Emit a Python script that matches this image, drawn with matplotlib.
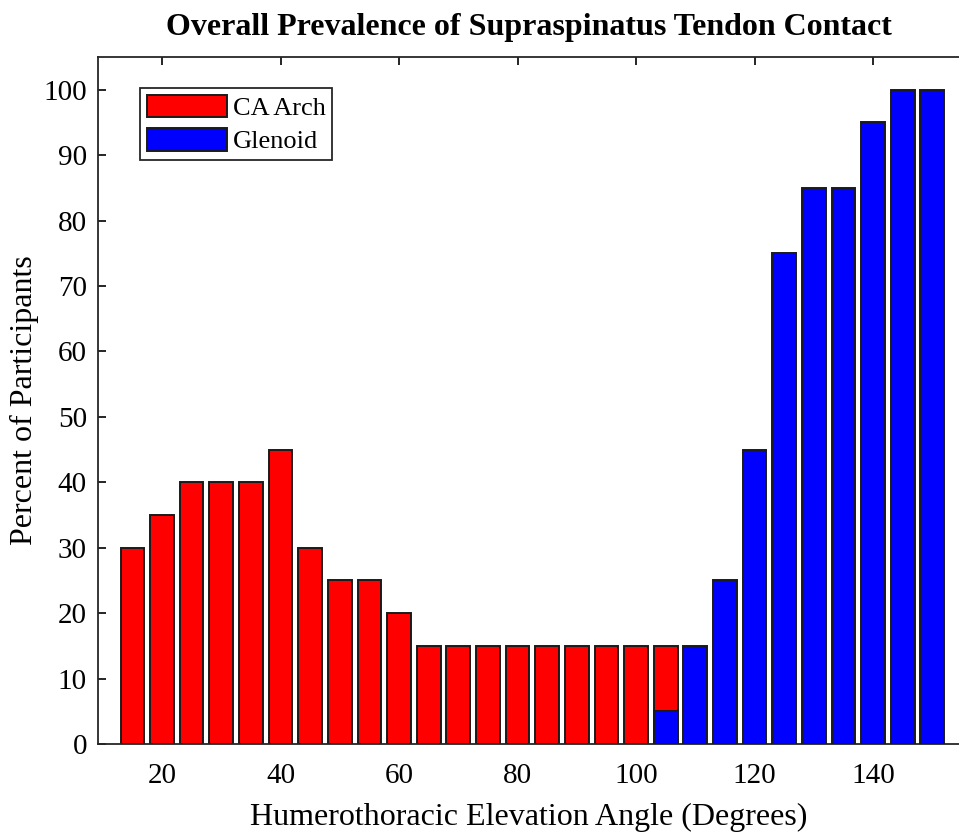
import matplotlib
matplotlib.use("Agg")
import matplotlib.pyplot as plt
import numpy as np

plt.rcParams['font.family'] = ['Liberation Serif', 'DejaVu Serif']

ca_angles = [15, 20, 25, 30, 35, 40, 45, 50, 55, 60, 65, 70, 75, 80, 85, 90, 95, 100, 105]
ca_values = [30, 35, 40, 40, 40, 45, 30, 25, 25, 20, 15, 15, 15, 15, 15, 15, 15, 15, 15]
gl_angles = [105, 110, 115, 120, 125, 130, 135, 140, 145, 150]
gl_values = [5, 15, 25, 45, 75, 85, 85, 95, 100, 100]
xticks = [20, 40, 60, 80, 100, 120, 140]
yticks = [0, 10, 20, 30, 40, 50, 60, 70, 80, 90, 100]

fig = plt.figure(figsize=(9.59, 8.33), dpi=100)
ax = fig.add_axes([98/959, 1-744/833, 1-98/959, (744-57)/833])

ax.bar(ca_angles, ca_values, width=4, color='#ff0000', edgecolor='#1a1a1a', linewidth=1.4, label='CA Arch', zorder=2)
ax.bar(gl_angles, gl_values, width=4, color='#0000ff', edgecolor='#1a1a1a', linewidth=1.4, label='Glenoid', zorder=3)

ax.set_xlim(9.2, 154.5)
ax.set_ylim(0, 105)
ax.set_xticks(xticks)
ax.set_yticks(yticks)
ax.tick_params(direction='in', length=6, width=1.2, labelsize=21, top=True, right=False)
ax.tick_params(axis='x', pad=14)
ax.tick_params(axis='y', pad=8)
ax.spines['right'].set_visible(False)
for s in ['left', 'top', 'bottom']:
    ax.spines[s].set_linewidth(1.3)
    ax.spines[s].set_color('#262626')

ax.set_title('Overall Prevalence of Supraspinatus Tendon Contact', fontsize=23, fontweight='bold', pad=16)
ax.set_xlabel('Humerothoracic Elevation Angle (Degrees)', fontsize=23, labelpad=10)
ax.set_ylabel('Percent of Participants', fontsize=23, labelpad=3)

leg = ax.legend(loc='upper left', bbox_to_anchor=(0.049, 0.955), fontsize=19, handlelength=3.05,
                handleheight=0.95, fancybox=False, edgecolor='#262626', framealpha=1,
                borderpad=0.25, labelspacing=0.3, handletextpad=0.2, borderaxespad=0)
leg.get_frame().set_linewidth(1.3)

fig.savefig('out.png', dpi=100)
